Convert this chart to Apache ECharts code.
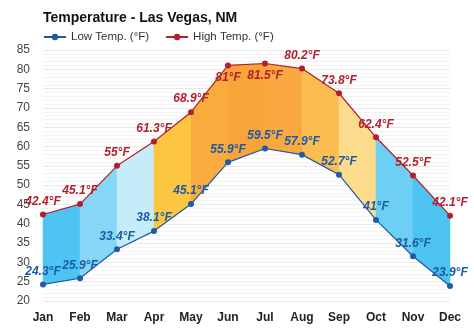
<!DOCTYPE html>
<html>
<head>
<meta charset="utf-8">
<script src="https://cdn.jsdelivr.net/npm/echarts@6/dist/echarts.min.js"></script>
<style>
  html, body { margin: 0; padding: 0; background: #fff; }
  #chart { width: 474px; height: 331px; }
</style>
</head>
<body>
<div id="chart"></div>
<script>
// Monthly average temperatures (°F)
const months = ['Jan', 'Feb', 'Mar', 'Apr', 'May', 'Jun', 'Jul', 'Aug', 'Sep', 'Oct', 'Nov', 'Dec'];
const lowTemps = [24.3, 25.9, 33.4, 38.1, 45.1, 55.9, 59.5, 57.9, 52.7, 41, 31.6, 23.9];
const highTemps = [42.4, 45.1, 55, 61.3, 68.9, 81, 81.5, 80.2, 73.8, 62.4, 52.5, 42.1];
// Fill colour of each band between one month and the next
const bandColors = ['#4ec4f2', '#86d7f6', '#c6ecfa', '#fdc640', '#f9ab3d', '#f8a43a', '#f9a93f',
                    '#fbbd4f', '#fcdc8c', '#6ecff5', '#4dc3f1'];
// Months whose high-temperature label sits below the marker
const highLabelsBelow = ['Jun', 'Jul'];

const bandData = bandColors.map((c, i) => [i, lowTemps[i], highTemps[i], lowTemps[i + 1], highTemps[i + 1]]);

const chart = echarts.init(document.getElementById('chart'), null, { renderer: 'canvas' });

const labelFont = { fontFamily: 'Liberation Sans, Arial, sans-serif', fontSize: 12, fontWeight: 'bold', fontStyle: 'italic' };

chart.setOption({
  animation: false,
  backgroundColor: '#ffffff',
  title: {
    text: 'Temperature - Las Vegas, NM',
    left: 38, top: 6,
    textStyle: { fontFamily: 'Liberation Sans, Arial, sans-serif', fontSize: 14, fontWeight: 'bold', color: '#111' }
  },
  legend: {
    left: 38, top: 26,
    itemWidth: 22, itemHeight: 8, itemGap: 16,
    textStyle: { fontFamily: 'Liberation Sans, Arial, sans-serif', fontSize: 11.5, color: '#333' },
    data: ['Low Temp. (°F)', 'High Temp. (°F)']
  },
  grid: { left: 43, right: 24, top: 50, bottom: 30 },
  xAxis: {
    type: 'category',
    data: months,
    boundaryGap: false,
    axisLine: { show: false },
    axisTick: { show: false },
    splitLine: { show: false },
    axisLabel: { margin: 11, fontFamily: 'Liberation Sans, Arial, sans-serif', fontSize: 12, fontWeight: 'bold', color: '#222' }
  },
  yAxis: {
    type: 'value',
    min: 20, max: 85, interval: 5,
    axisLine: { show: false },
    axisTick: { show: false },
    axisLabel: { margin: 13, fontFamily: 'Liberation Sans, Arial, sans-serif', fontSize: 12, color: '#444' },
    splitLine: { lineStyle: { color: '#e8e8e8', width: 1 } },
    minorTick: { show: false, splitNumber: 5 },
    minorSplitLine: { show: true, lineStyle: { color: '#f3f3f3', width: 1 } }
  },
  series: [
    {
      type: 'custom',
      silent: true,
      z: 1,
      data: bandData,
      encode: { x: 0, y: [1, 2, 3, 4] },
      renderItem: function (params, api) {
        const i = api.value(0);
        const p1 = api.coord([i, api.value(1)]);
        const p2 = api.coord([i + 1, api.value(3)]);
        const p3 = api.coord([i + 1, api.value(4)]);
        const p4 = api.coord([i, api.value(2)]);
        return {
          type: 'polygon',
          shape: { points: [p1, p2, p3, p4] },
          style: { fill: bandColors[params.dataIndex], stroke: bandColors[params.dataIndex], lineWidth: 0.5 }
        };
      }
    },
    {
      name: 'Low Temp. (°F)',
      type: 'line',
      z: 3,
      data: lowTemps,
      color: '#1d5ba6',
      symbol: 'circle', symbolSize: 6,
      lineStyle: { width: 1.2, color: '#1d5ba6' },
      itemStyle: { color: '#1d5ba6' },
      label: {
        show: true, position: 'top', distance: 4,
        formatter: p => p.value + '°F',
        color: '#1d5ba6', ...labelFont
      }
    },
    {
      name: 'High Temp. (°F)',
      type: 'line',
      z: 3,
      data: highTemps.map((v, i) => highLabelsBelow.includes(months[i])
        ? { value: v, label: { position: 'bottom', distance: 3 } }
        : v),
      color: '#b31f2e',
      symbol: 'circle', symbolSize: 6,
      lineStyle: { width: 1.2, color: '#b31f2e' },
      itemStyle: { color: '#b31f2e' },
      label: {
        show: true, position: 'top', distance: 4,
        formatter: p => p.value + '°F',
        color: '#b31f2e', ...labelFont
      }
    }
  ]
});
</script>
</body>
</html>
